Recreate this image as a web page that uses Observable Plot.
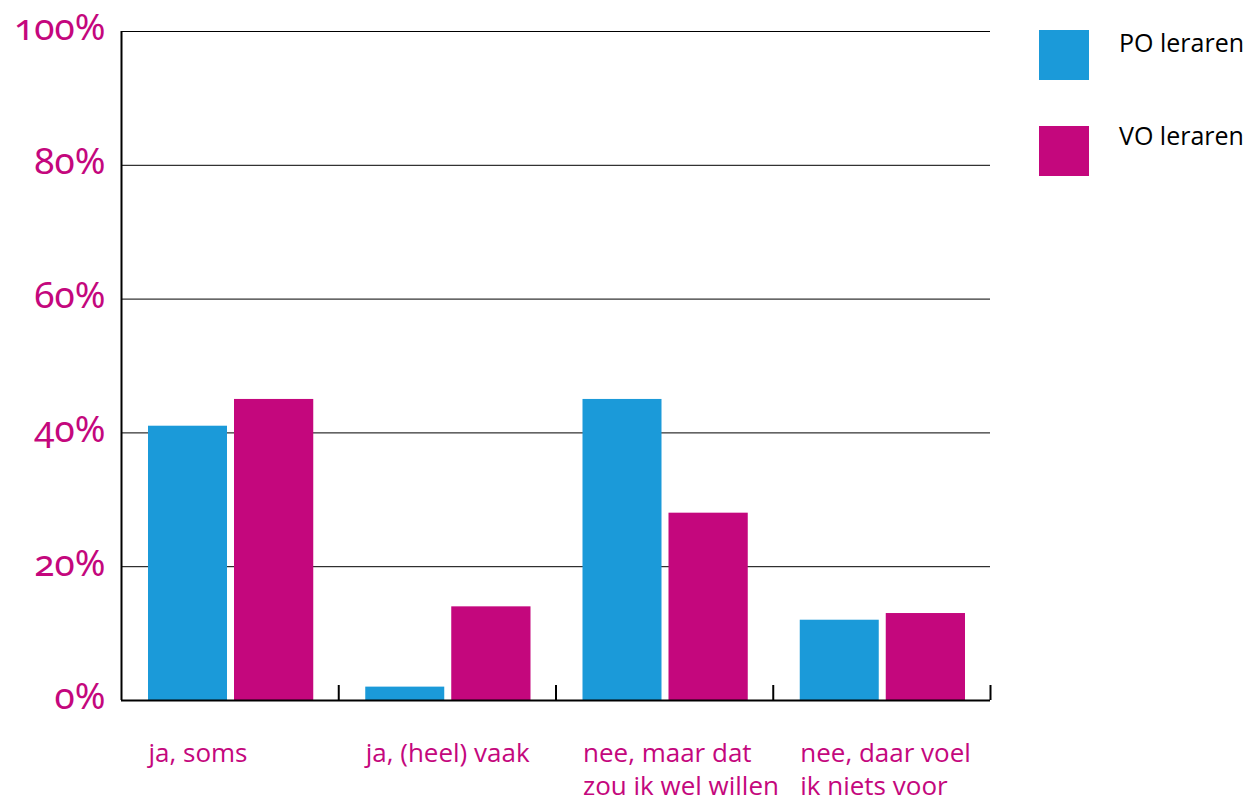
<!DOCTYPE html>
<html>
<head>
<meta charset="utf-8">
<script src="https://cdn.jsdelivr.net/npm/d3@7"></script>
<script src="https://cdn.jsdelivr.net/npm/@observablehq/plot@0.6"></script>
<style>
  html, body { margin: 0; padding: 0; background: #fff; }
  #wrap { position: relative; width: 1252px; height: 801px; }
  #legend { position: absolute; left: 0; top: 0; }
  .ylab text { font-variant-numeric: oldstyle-nums; font-feature-settings: "onum" 1; }
</style>
</head>
<body>
<div id="wrap"></div>
<script>
const categories = ["ja, soms", "ja, (heel) vaak", "nee, maar dat zou ik wel willen", "nee, daar voel ik niets voor"];
const categoryLabels = ["ja, soms", "ja, (heel) vaak", "nee, maar dat\nzou ik wel willen", "nee, daar voel\nik niets voor"];
const poValues = [41, 2, 45, 12];
const voValues = [45, 14, 28, 13];
const seriesNames = ["PO leraren", "VO leraren"];
const yTicks = [0, 20, 40, 60, 80, 100];

const BLUE = "#1b9ad9";
const MAGENTA = "#c4077d";

const W = 1252, H = 801;
const mL = 121, mR = 262, mT = 31, mB = 101;
const bw = (W - mL - mR) / categories.length;

const po = categories.map((c, i) => ({category: c, value: poValues[i]}));
const vo = categories.map((c, i) => ({category: c, value: voValues[i]}));
const labelOf = new Map(categories.map((c, i) => [c, categoryLabels[i]]));

const chart = Plot.plot({
  width: W, height: H,
  marginLeft: mL, marginRight: mR, marginTop: mT, marginBottom: mB,
  style: {fontFamily: "'Open Sans', sans-serif", background: "#fff", overflow: "visible"},
  x: {type: "band", domain: categories, padding: 0, round: false, axis: null, label: null},
  y: {domain: [0, 100], axis: null, label: null},
  marks: [
    Plot.gridY(yTicks, {stroke: "#000", strokeOpacity: 1, strokeWidth: 1}),
    Plot.barY(po, {x: "category", y: "value", fill: BLUE, insetLeft: 27, insetRight: bw - 106}),
    Plot.barY(vo, {x: "category", y: "value", fill: MAGENTA, insetLeft: 113, insetRight: 25}),
    Plot.ruleY([0], {stroke: "#000", strokeWidth: 2}),
    Plot.ruleX([categories[0]], {x: d => d, dx: -bw / 2, stroke: "#000", strokeWidth: 2}),
    Plot.tickX(categories, {x: d => d, dx: bw / 2, stroke: "#000", strokeWidth: 2, insetTop: (H - mT - mB) - 15}),
    Plot.axisY(yTicks, {
      tickSize: 0, tickPadding: 16, tickFormat: d => d + "%", label: null,
      fontSize: 37, fill: MAGENTA, fontFamily: "'Noto Sans', sans-serif",
      dy: -3, className: "ylab"
    }),
    Plot.text(categories, {
      x: d => d, text: d => labelOf.get(d),
      frameAnchor: "bottom", textAnchor: "start", lineAnchor: "top",
      dx: -bw / 2 + 27, dy: 37, fontSize: 26, lineHeight: 1.3,
      fill: MAGENTA
    })
  ]
});

const wrap = document.getElementById("wrap");
wrap.appendChild(chart);

// Legend
const legend = d3.create("svg")
  .attr("id", "legend")
  .attr("width", W).attr("height", H)
  .style("pointer-events", "none");
const colors = [BLUE, MAGENTA];
const legendTops = [30, 126];
const legendBaselines = [52, 145];
seriesNames.forEach((name, i) => {
  legend.append("rect")
    .attr("x", 1039).attr("y", legendTops[i])
    .attr("width", 50).attr("height", 50)
    .attr("fill", colors[i]);
  legend.append("text")
    .attr("x", 1119).attr("y", legendBaselines[i])
    .attr("font-family", "'Open Sans', sans-serif")
    .attr("font-size", 25)
    .attr("fill", "#000")
    .text(name);
});
wrap.appendChild(legend.node());
</script>
</body>
</html>
